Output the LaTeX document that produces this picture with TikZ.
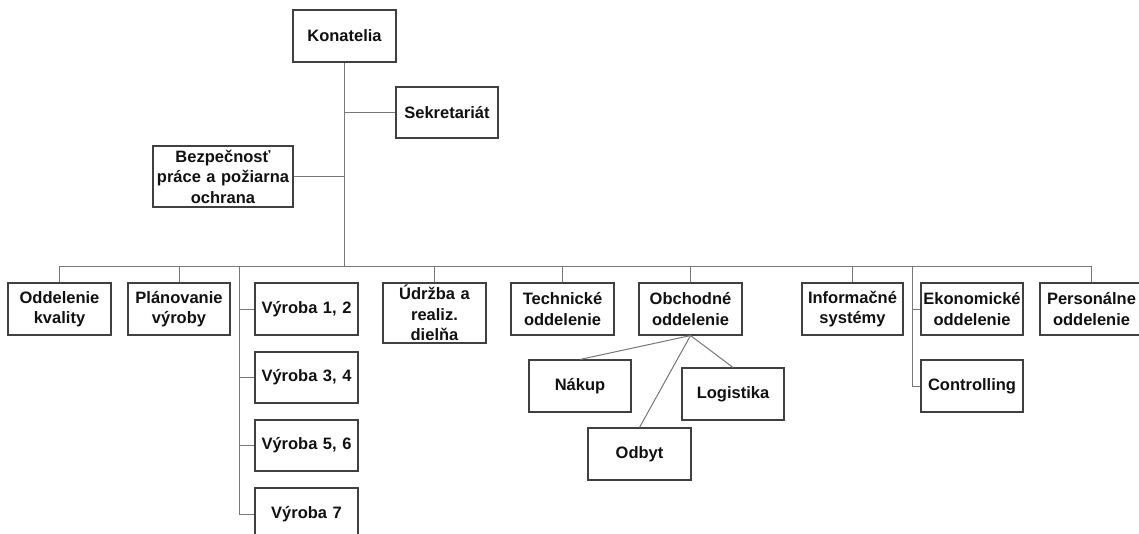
\documentclass[tikz,border=0pt]{standalone}
\usepackage{fontspec}
\setmainfont{Liberation Sans}
\definecolor{boxline}{HTML}{404040}
\definecolor{conline}{HTML}{777777}
\definecolor{txt}{HTML}{111111}
\begin{document}
\begin{tikzpicture}[x=1pt,y=-1pt,
  orgbox/.style={draw=boxline, line width=1.1pt, fill=white, text=txt,
    minimum width=103pt, minimum height=52pt, inner sep=0pt,
    text width=101pt, align=center,
    font=\fontsize{16.5}{20.5}\selectfont\bfseries},
  conn/.style={draw=conline, line width=1pt}]
\clip (0,0) rectangle (1139,533);
\fill[white] (0,0) rectangle (1139,533);
% top
\node[orgbox] (kon) at (344.5,36) {Konatelia};
\node[orgbox, minimum width=102pt, minimum height=51pt] (sek) at (447,112.5) {Sekretariát};
\node[orgbox, minimum width=140pt, minimum height=61pt, text width=138pt] (bez) at (223,176.5) {Bezpečnosť\\práce a požiarna\\ochrana};
% level 2
\node[orgbox] (odd) at (59.5,309) {Oddelenie\\kvality};
\node[orgbox, minimum width=102pt] (plan) at (179,309) {Plánovanie\\výroby};
\node[orgbox] (v12) at (306.5,309) {Výroba 1, 2};
\node[orgbox, minimum height=51pt] (v34) at (306.5,377.5) {Výroba 3, 4};
\node[orgbox, minimum height=51pt] (v56) at (306.5,445.5) {Výroba 5, 6};
\node[orgbox] (v7) at (306.5,514) {Výroba 7};
\node[orgbox, minimum height=60pt] (udr) at (434.5,313) {Údržba a\\realiz.\\dielňa};
\node[orgbox] (tech) at (562.5,309) {Technické\\oddelenie};
\node[orgbox] (obch) at (690.5,309) {Obchodné\\oddelenie};
\node[orgbox, minimum width=102pt] (nak) at (580,386) {Nákup};
\node[orgbox, minimum width=102pt] (log) at (733,394) {Logistika};
\node[orgbox] (odb) at (639.5,454) {Odbyt};
\node[orgbox, minimum width=101pt] (inf) at (852.5,309) {Informačné\\systémy};
\node[orgbox, minimum width=102pt] (eko) at (972,309) {Ekonomické\\oddelenie};
\node[orgbox, minimum width=102pt] (con) at (972,386) {Controlling};
\node[orgbox] (pers) at (1091.5,309) {Personálne\\oddelenie};
% coordinates
\coordinate (busL) at (59.5,266);
\coordinate (busR) at (1091.5,266);
\coordinate (busC) at (344.5,266);
\coordinate (vx) at (239,266);
\coordinate (ex) at (912,266);
% connectors
\draw[conn] (kon.south) -- (busC);
\draw[conn] (sek.west) -- (sek.west -| kon.south);
\draw[conn] (bez.east) -- (bez.east -| kon.south);
\draw[conn] (busL) -- (busR);
\foreach \n in {odd,plan,udr,tech,obch,inf,pers}
  \draw[conn] (\n.north) -- (\n.north |- busL);
\draw[conn] (vx) -- (vx |- v7.west);
\foreach \n in {v12,v34,v56,v7}
  \draw[conn] (\n.west) -- (\n.west -| vx);
\draw[conn] (ex) |- (con.west);
\draw[conn] (eko.west) -- (eko.west -| ex);
\draw[conn] (obch.south) -- (nak.north);
\draw[conn] (obch.south) -- (odb.north);
\draw[conn] (obch.south) -- (log.north);
\end{tikzpicture}
\end{document}
